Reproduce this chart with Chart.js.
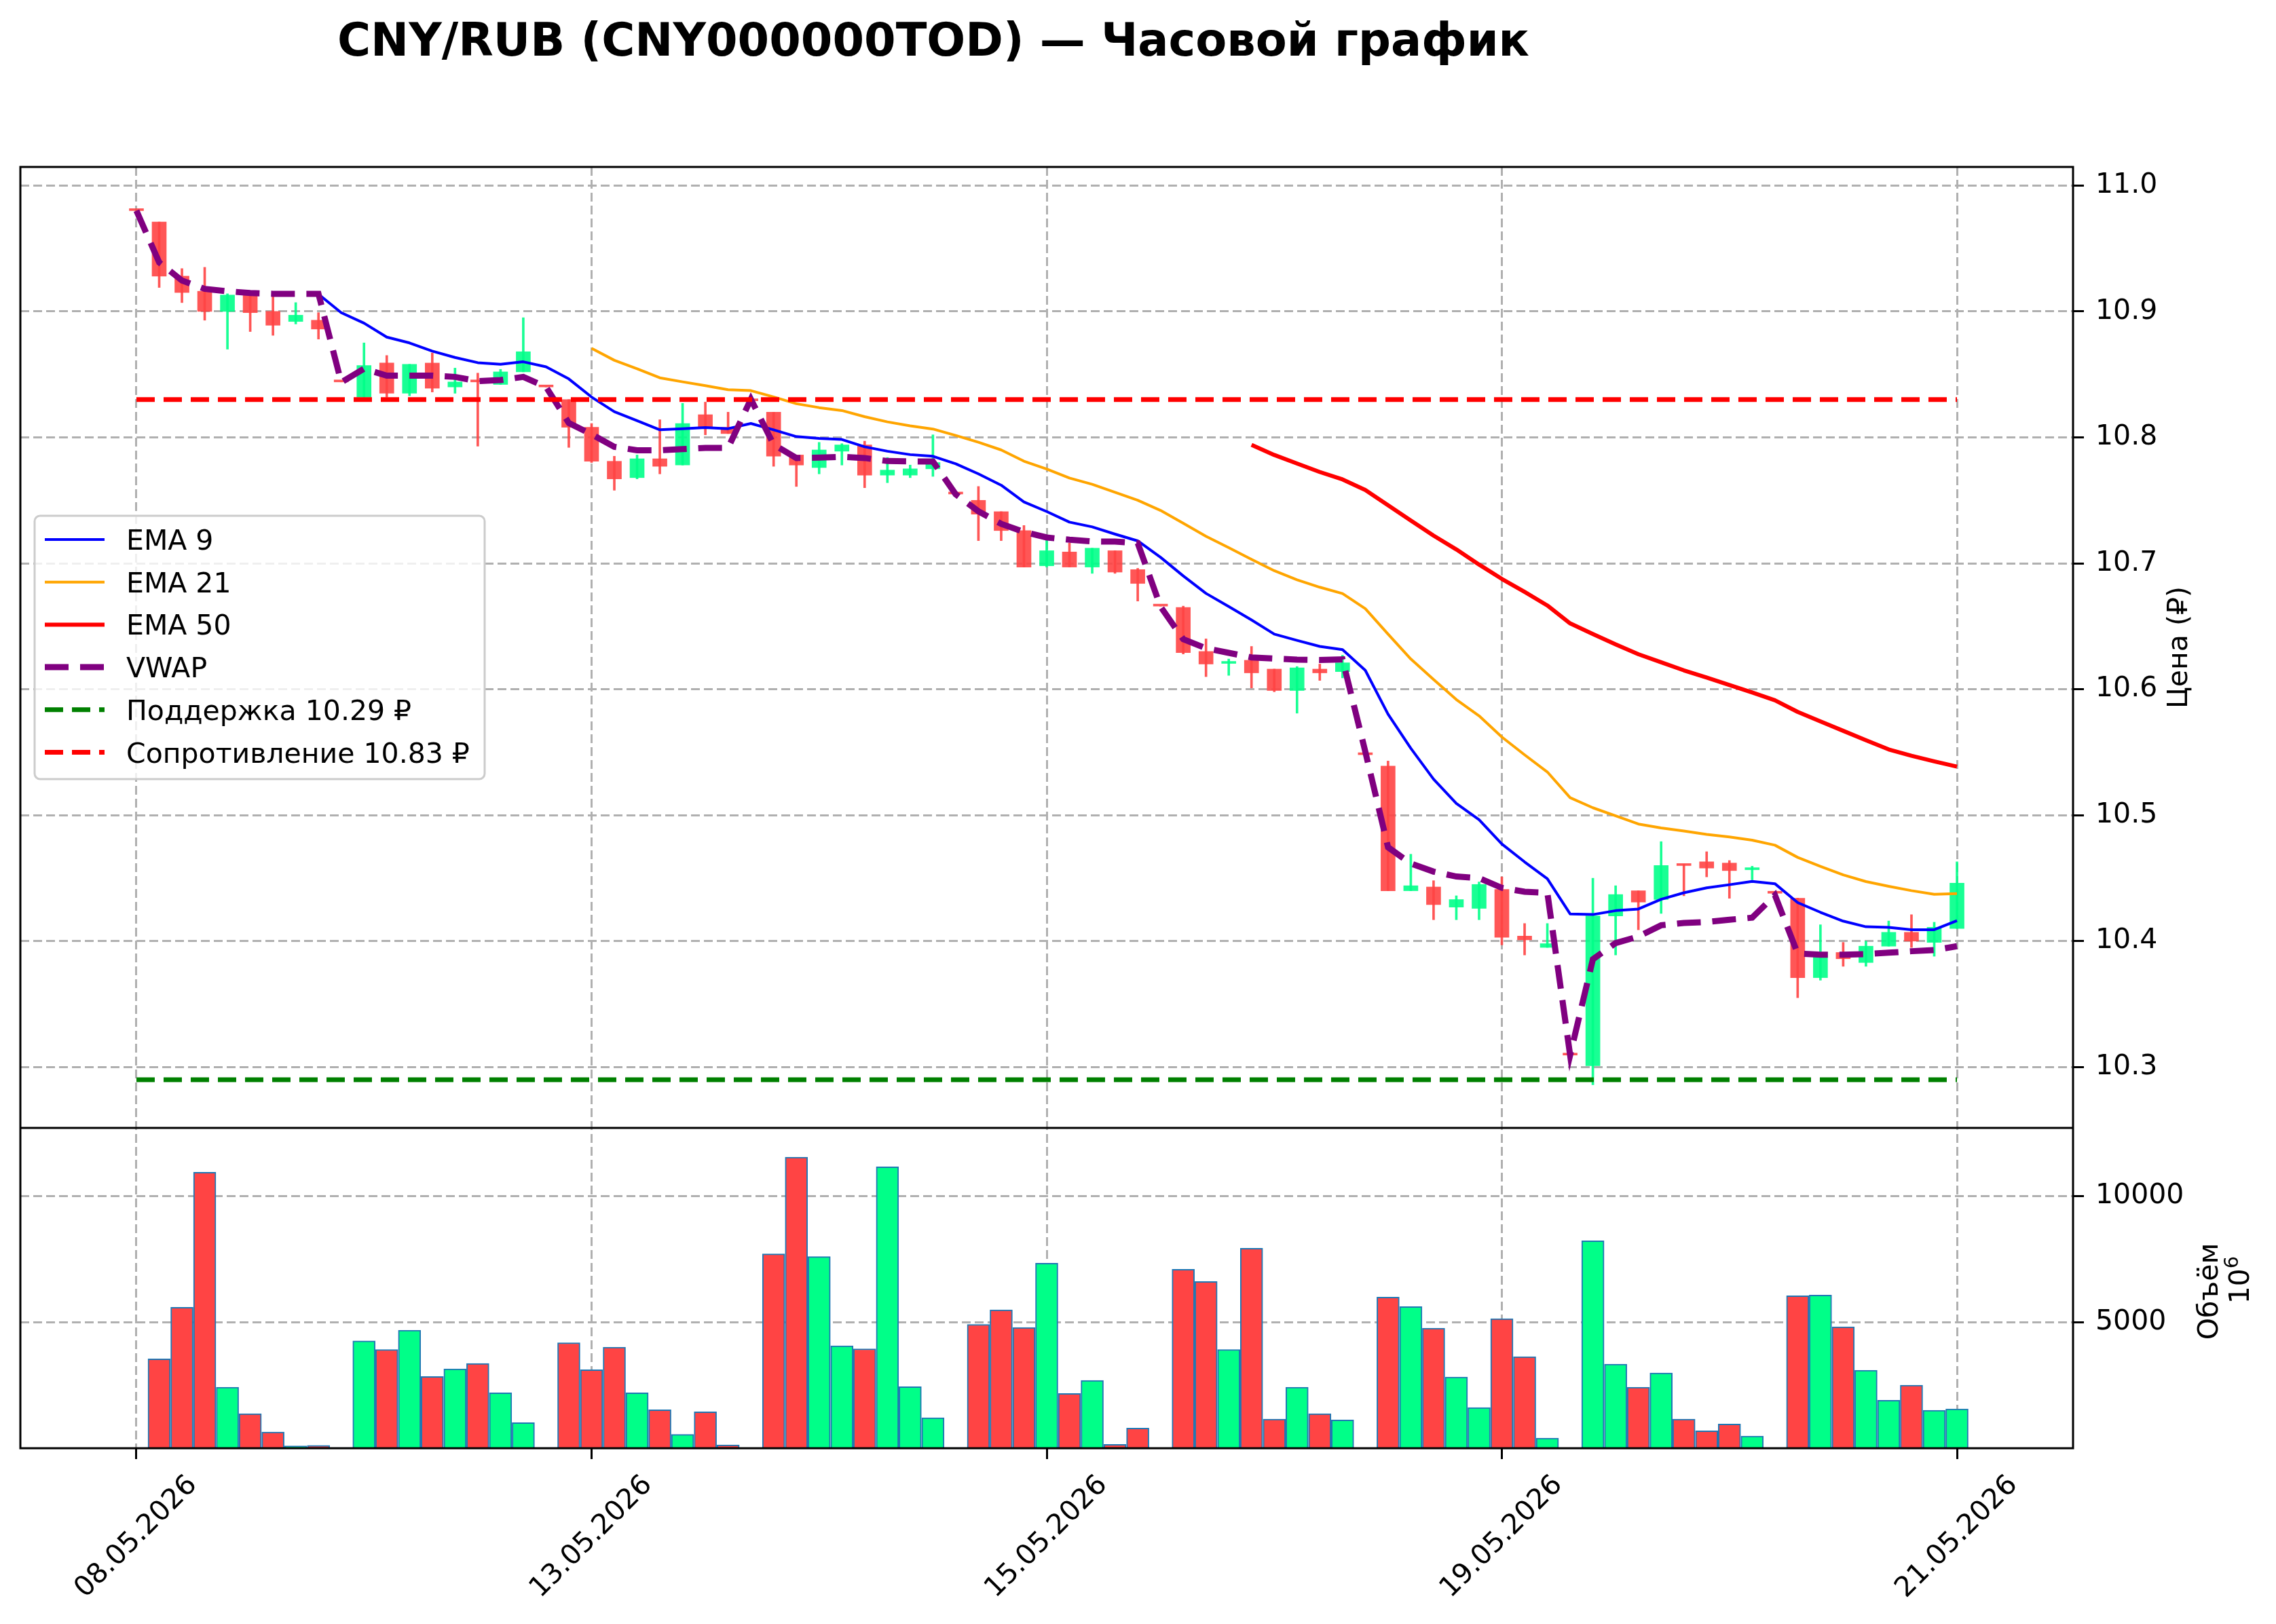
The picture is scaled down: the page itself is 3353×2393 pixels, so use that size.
<!DOCTYPE html>
<html lang="ru">
<head>
  <meta charset="UTF-8">
  <title>CNY/RUB — Часовой график</title>
  <style>
    html, body {
      margin: 0;
      padding: 0;
      background: #fff;
    }
    #chart {
      display: block;
    }
  </style>
</head>
<body>
  <canvas id="chart" width="3353" height="2393"></canvas>

  <script src="https://cdn.jsdelivr.net/npm/chart.js"></script>
  <script>
    // Hourly candles, one per slot on the x axis (slot 0 = first bar)
    const opens = [
      10.980, 10.971, 10.928, 10.916, 10.900, 10.913, 10.900, 10.892, 10.893, 10.844,
      10.832, 10.859, 10.835, 10.859, 10.840, 10.845, 10.842, 10.852, 10.840, 10.830,
      10.808, 10.781, 10.768, 10.783, 10.778, 10.818, 10.808, 10.829, 10.820, 10.786,
      10.776, 10.789, 10.794, 10.770, 10.770, 10.775, 10.755, 10.750, 10.741, 10.726,
      10.698, 10.709, 10.697, 10.710, 10.695, 10.666, 10.665, 10.630, 10.6205, 10.623,
      10.616, 10.599, 10.616, 10.614, 10.548, 10.539, 10.440, 10.443, 10.427, 10.426,
      10.441, 10.404, 10.395, 10.3095, 10.301, 10.420, 10.440, 10.433, 10.461, 10.463,
      10.462, 10.4567, 10.438, 10.434, 10.371, 10.391, 10.383, 10.396, 10.407, 10.399,
      10.410
    ];
    const highs = [
      10.980, 10.971, 10.934, 10.935, 10.914, 10.914, 10.912, 10.907, 10.899, 10.844,
      10.875, 10.865, 10.858, 10.867, 10.855, 10.851, 10.854, 10.895, 10.840, 10.830,
      10.811, 10.785, 10.786, 10.814, 10.827, 10.828, 10.820, 10.829, 10.820, 10.786,
      10.796, 10.795, 10.797, 10.784, 10.778, 10.802, 10.755, 10.761, 10.741, 10.730,
      10.720, 10.716, 10.712, 10.710, 10.696, 10.666, 10.666, 10.640, 10.624, 10.634,
      10.616, 10.618, 10.620, 10.627, 10.548, 10.543, 10.469, 10.448, 10.436, 10.447,
      10.451, 10.414, 10.414, 10.3095, 10.450, 10.444, 10.440, 10.479, 10.461, 10.471,
      10.464, 10.4595, 10.438, 10.434, 10.413, 10.399, 10.400, 10.416, 10.421, 10.415,
      10.463
    ];
    const lows = [
      10.980, 10.919, 10.907, 10.893, 10.870, 10.884, 10.881, 10.890, 10.878, 10.844,
      10.832, 10.832, 10.833, 10.836, 10.835, 10.793, 10.842, 10.852, 10.840, 10.792,
      10.780, 10.758, 10.767, 10.771, 10.778, 10.802, 10.803, 10.829, 10.777, 10.761,
      10.771, 10.778, 10.760, 10.764, 10.768, 10.769, 10.755, 10.718, 10.718, 10.697,
      10.697, 10.697, 10.692, 10.692, 10.670, 10.666, 10.628, 10.610, 10.611, 10.601,
      10.598, 10.581, 10.607, 10.609, 10.548, 10.440, 10.440, 10.417, 10.417, 10.417,
      10.397, 10.389, 10.395, 10.3095, 10.286, 10.389, 10.409, 10.422, 10.436, 10.451,
      10.434, 10.4487, 10.438, 10.355, 10.369, 10.380, 10.380, 10.396, 10.395, 10.388,
      10.410
    ];
    const closes = [
      10.980, 10.928, 10.915, 10.900, 10.913, 10.899, 10.889, 10.897, 10.886, 10.844,
      10.857, 10.835, 10.858, 10.839, 10.844, 10.844, 10.852, 10.868, 10.840, 10.808,
      10.781, 10.767, 10.783, 10.777, 10.811, 10.808, 10.803, 10.829, 10.785, 10.778,
      10.790, 10.794, 10.770, 10.774, 10.775, 10.780, 10.755, 10.739, 10.726, 10.697,
      10.710, 10.697, 10.712, 10.693, 10.684, 10.666, 10.629, 10.620, 10.622, 10.613,
      10.599, 10.617, 10.613, 10.621, 10.548, 10.440, 10.444, 10.429, 10.433, 10.445,
      10.403, 10.401, 10.398, 10.3095, 10.420, 10.437, 10.431, 10.460, 10.460, 10.458,
      10.456, 10.457, 10.438, 10.371, 10.391, 10.386, 10.396, 10.407, 10.400, 10.411,
      10.446
    ];
    const volumes = [
      0, 3540, 5590, 10940, 2420, 1370, 645, 90, 115, 27,
      4256, 3916, 4677, 2841, 3145, 3360, 2195, 1013, 27, 4184,
      3109, 4005, 2195, 1523, 547, 1443, 134, 0, 7706, 11540,
      7598, 4059, 3943, 11155, 2437, 1210, 27, 4910, 5484, 4785,
      7339, 2168, 2688, 152, 797, 0, 7097, 6613, 3916, 7930,
      1156, 2419, 1371, 1120, 0, 5994, 5618, 4758, 2822, 1613,
      5134, 3629, 403, 0, 8225, 3333, 2419, 2984, 1156, 690,
      959, 484, 0, 6048, 6075, 4811, 3091, 1900, 2500, 1505,
      1559
    ];

    // Indicator lines, each starting at its own slot
    const ema9Start = 8;
    const ema9 = [
      10.9137, 10.899, 10.8907, 10.8796, 10.875, 10.8685, 10.8634, 10.8593, 10.858, 10.860,
      10.856, 10.8464, 10.832, 10.8204, 10.8132, 10.806, 10.8069, 10.8078, 10.8069, 10.811,
      10.806, 10.8006, 10.7992, 10.7983, 10.7925, 10.789, 10.7863, 10.785, 10.779, 10.771,
      10.762, 10.7487, 10.7411, 10.7327, 10.7289, 10.7232, 10.7178, 10.7048, 10.690, 10.6761,
      10.6657, 10.655, 10.6438, 10.6388, 10.634, 10.6315, 10.615, 10.5802, 10.5531, 10.5286,
      10.5093, 10.4964, 10.4771, 10.4629, 10.4495, 10.4216, 10.4211, 10.4242, 10.4255, 10.4332,
      10.4384, 10.4423, 10.4448, 10.4474, 10.4456, 10.4306, 10.4229, 10.4159, 10.4114, 10.4109,
      10.4091, 10.4091, 10.4162
    ];
    const ema21Start = 20;
    const ema21 = [
      10.8707, 10.8612, 10.8545, 10.8473, 10.8441, 10.8411, 10.8378, 10.8371, 10.8321, 10.8267,
      10.8236, 10.8213, 10.8164, 10.8123, 10.8091, 10.8066, 10.8015, 10.7961, 10.790, 10.7811,
      10.7749, 10.7677, 10.7627, 10.7564, 10.7501, 10.742, 10.7318, 10.7214, 10.7124, 10.7031,
      10.6941, 10.6869, 10.681, 10.676, 10.664, 10.6438, 10.624, 10.6077, 10.5918, 10.5789,
      10.5621, 10.5479, 10.5343, 10.5139, 10.5059, 10.4995, 10.493, 10.4899, 10.4874, 10.4848,
      10.4827, 10.4802, 10.4762, 10.4665, 10.4593, 10.4526, 10.4473, 10.4435, 10.4401, 10.4372,
      10.4378
    ];
    const ema50Start = 49;
    const ema50 = [
      10.7941, 10.786, 10.7792, 10.7725, 10.7666, 10.7582, 10.7461, 10.734, 10.722, 10.711,
      10.699, 10.6876, 10.6773, 10.6665, 10.6523, 10.6438, 10.6356, 10.6278, 10.6214, 10.615,
      10.6093, 10.6034, 10.5974, 10.5912, 10.582, 10.5745, 10.567, 10.5595, 10.5522, 10.5472,
      10.5427, 10.5386
    ];
    const vwap = [
      10.980, 10.9389, 10.9245, 10.9179, 10.916, 10.9146, 10.914, 10.914, 10.914, 10.8437,
      10.8545, 10.849, 10.849, 10.849, 10.848, 10.8446, 10.8455, 10.848, 10.840, 10.8114,
      10.8024, 10.7925, 10.7898, 10.7898, 10.7907, 10.7916, 10.7916, 10.8303, 10.7943, 10.7836,
      10.7839, 10.7845, 10.7836, 10.7812, 10.7809, 10.7809, 10.7548, 10.7413, 10.7313, 10.725,
      10.7205, 10.7187, 10.7174, 10.7172, 10.716, 10.6657, 10.6397, 10.6325, 10.6289, 10.6253,
      10.6244, 10.6235, 10.6232, 10.6237, 10.5505, 10.4745, 10.4616, 10.4552, 10.4513, 10.450,
      10.4423, 10.4392, 10.4384, 10.3095, 10.3856, 10.3985, 10.4036, 10.4126, 10.4144, 10.4152,
      10.417, 10.4186, 10.4365, 10.3902, 10.3893, 10.3893, 10.3897, 10.3908, 10.392, 10.3929,
      10.396
    ];
    const supportLevel = 10.29;
    const resistanceLevel = 10.83;

    // Axis ticks
    const dateTickIdx = [0, 20, 40, 60, 80];
    const dateTickLabels = ['08.05.2026', '13.05.2026', '15.05.2026', '19.05.2026', '21.05.2026'];
    const priceTicks = [10.3, 10.4, 10.5, 10.6, 10.7, 10.8, 10.9, 11.0];
    const volumeTicks = [5000, 10000];

    const FONT = '"DejaVu Sans", "Liberation Sans", sans-serif';
    const GRID = '#b0b0b0';
    const UP = '#00ff88';
    const DOWN = '#ff4444';

    Chart.defaults.font.family = FONT;
    Chart.defaults.font.size = 41;
    Chart.defaults.color = '#000';

    const slots = opens.map((_, i) => i);
    const isUp = i => closes[i] > opens[i];
    const candleColor = c => isUp(c.dataIndex) ? 'rgba(0,255,136,0.9)' : 'rgba(255,68,68,0.9)';
    const series = (start, vals) => vals.map((v, k) => ({ x: start + k, y: v }));
    const lastSlot = slots.length - 1;

    function gridOpts() {
      return {
        color: GRID,
        lineWidth: 3,
        tickColor: '#000',
        tickWidth: 3,
        tickLength: 16,
        offset: false
      };
    }

    // title, axis labels, x tick labels, legend and frame, matplotlib style
    const decor = {
      id: 'decor',
      afterDraw(chart) {
        const { ctx, chartArea: a, scales } = chart;
        const xs = scales.x, yp = scales.y, yv = scales.yv;
        ctx.save();

        // title
        ctx.fillStyle = '#000';
        ctx.font = 'bold 67px ' + FONT;
        ctx.textAlign = 'center';
        ctx.textBaseline = 'alphabetic';
        ctx.fillText('CNY/RUB (CNY000000TOD) — Часовой график', 1375, 82);

        // rotated date labels, centred under each tick
        ctx.font = '41px ' + FONT;
        dateTickIdx.forEach((v, k) => {
          ctx.save();
          ctx.translate(xs.getPixelForValue(v) - 3, a.bottom + 128);
          ctx.rotate(-Math.PI / 4);
          ctx.textAlign = 'center';
          ctx.fillText(dateTickLabels[k], 0, 15);
          ctx.restore();
        });

        // y axis titles
        ctx.save();
        ctx.translate(a.right + 168, (yp.top + yp.bottom) / 2);
        ctx.rotate(-Math.PI / 2);
        ctx.textAlign = 'center';
        ctx.fillText('Цена (₽)', 0, 0);
        ctx.restore();

        const vMid = (yv.top + yv.bottom) / 2;
        ctx.save();
        ctx.translate(a.right + 213, vMid + 5);
        ctx.rotate(-Math.PI / 2);
        ctx.textAlign = 'center';
        ctx.fillText('Объём', 0, 0);
        ctx.restore();

        ctx.save();
        ctx.translate(a.right + 259, vMid - 12);
        ctx.rotate(-Math.PI / 2);
        ctx.textAlign = 'left';
        ctx.font = '41px ' + FONT;
        const w10 = ctx.measureText('10').width;
        ctx.font = '29px ' + FONT;
        const w6 = ctx.measureText('6').width;
        const x0 = -(w10 + w6) / 2;
        ctx.font = '41px ' + FONT;
        ctx.fillText('10', x0, 0);
        ctx.font = '29px ' + FONT;
        ctx.fillText('6', x0 + w10, -16);
        ctx.restore();

        // legend
        const items = chart.data.datasets.filter(d => d.type === 'line');
        ctx.beginPath();
        ctx.roundRect(51, 760, 663, 388, 8);
        ctx.fillStyle = 'rgba(255,255,255,0.8)';
        ctx.fill();
        ctx.lineWidth = 3;
        ctx.strokeStyle = '#cccccc';
        ctx.stroke();
        ctx.font = '41px ' + FONT;
        ctx.textAlign = 'left';
        items.forEach((d, k) => {
          const ry = 795 + k * 62.7;
          ctx.beginPath();
          ctx.setLineDash(d.borderDash || []);
          ctx.strokeStyle = d.borderColor;
          ctx.lineWidth = d.borderWidth;
          ctx.moveTo(66, ry);
          ctx.lineTo(154, ry);
          ctx.stroke();
          ctx.setLineDash([]);
          ctx.fillStyle = '#000';
          ctx.fillText(d.label, 186, ry + 15);
        });

        // axes frames
        ctx.strokeStyle = '#000';
        ctx.lineWidth = 3;
        ctx.strokeRect(a.left, a.top, a.right - a.left, a.bottom - a.top);
        ctx.beginPath();
        ctx.moveTo(a.left, yv.top);
        ctx.lineTo(a.right, yv.top);
        ctx.stroke();

        ctx.restore();
      }
    };

    new Chart(document.getElementById('chart'), {
      type: 'bar',
      data: {
        datasets: [
          {
            type: 'line', label: 'EMA 9', yAxisID: 'y', order: 5,
            data: series(ema9Start, ema9),
            borderColor: 'blue', borderWidth: 4, pointRadius: 0, tension: 0, borderJoinStyle: 'round'
          },
          {
            type: 'line', label: 'EMA 21', yAxisID: 'y', order: 4,
            data: series(ema21Start, ema21),
            borderColor: 'orange', borderWidth: 4, pointRadius: 0, tension: 0, borderJoinStyle: 'round'
          },
          {
            type: 'line', label: 'EMA 50', yAxisID: 'y', order: 3,
            data: series(ema50Start, ema50),
            borderColor: 'red', borderWidth: 6, pointRadius: 0, tension: 0, borderJoinStyle: 'round'
          },
          {
            type: 'line', label: 'VWAP', yAxisID: 'y', order: 2,
            data: series(0, vwap),
            borderColor: 'purple', borderWidth: 9, borderDash: [35, 17], pointRadius: 0, tension: 0
          },
          {
            type: 'line', label: `Поддержка ${supportLevel.toFixed(2)} ₽`, yAxisID: 'y', order: 1,
            data: [{ x: 0, y: supportLevel }, { x: lastSlot, y: supportLevel }],
            borderColor: 'green', borderWidth: 7, borderDash: [27, 13], pointRadius: 0
          },
          {
            type: 'line', label: `Сопротивление ${resistanceLevel.toFixed(2)} ₽`, yAxisID: 'y', order: 1,
            data: [{ x: 0, y: resistanceLevel }, { x: lastSlot, y: resistanceLevel }],
            borderColor: 'red', borderWidth: 7, borderDash: [27, 13], pointRadius: 0
          },
          {
            type: 'bar', label: 'wicks', yAxisID: 'y', order: 20, grouped: false,
            data: slots.map(i => ({ x: i, y: [lows[i], highs[i]] })),
            backgroundColor: candleColor, barThickness: 3
          },
          {
            type: 'bar', label: 'bodies', yAxisID: 'y', order: 19, grouped: false,
            data: slots.map(i => ({ x: i, y: [opens[i], closes[i]] })),
            backgroundColor: candleColor, barThickness: 21, minBarLength: 3
          },
          {
            type: 'bar', label: 'volume', yAxisID: 'yv', order: 30, grouped: false,
            data: slots.map(i => ({ x: i, y: volumes[i] })),
            backgroundColor: c => isUp(c.dataIndex) ? UP : DOWN,
            borderColor: '#1f77b4', borderWidth: 2, barThickness: 33
          }
        ]
      },
      options: {
        responsive: false,
        animation: false,
        devicePixelRatio: 1,
        layout: { padding: { left: 30, top: 246, right: 0, bottom: 0 } },
        plugins: {
          legend: { display: false },
          tooltip: { enabled: false },
          title: { display: false }
        },
        scales: {
          x: {
            type: 'linear',
            min: -5.1,
            max: 85.1,
            offset: false,
            grid: gridOpts(),
            border: { display: false, dash: [13, 6] },
            ticks: { display: false, autoSkip: false },
            afterBuildTicks: s => { s.ticks = dateTickIdx.map(v => ({ value: v })); },
            afterFit: s => { s.height = 259; }
          },
          y: {
            type: 'linear',
            position: 'right',
            stack: 'panes',
            stackWeight: 3,
            min: 10.2517,
            max: 11.0147,
            beginAtZero: false,
            grid: gridOpts(),
            border: { display: false, dash: [13, 6] },
            ticks: { padding: 17, color: '#000', callback: v => v.toFixed(1) },
            afterBuildTicks: s => { s.ticks = priceTicks.map(v => ({ value: v })); },
            afterFit: s => { s.width = 299; }
          },
          yv: {
            type: 'linear',
            position: 'right',
            stack: 'panes',
            stackWeight: 1,
            min: 0,
            max: 12700,
            grid: gridOpts(),
            border: { display: false, dash: [13, 6] },
            ticks: { padding: 17, color: '#000', callback: v => String(v) },
            afterBuildTicks: s => { s.ticks = volumeTicks.map(v => ({ value: v })); },
            afterFit: s => { s.width = 299; }
          }
        }
      },
      plugins: [decor]
    });
  </script>
</body>
</html>
